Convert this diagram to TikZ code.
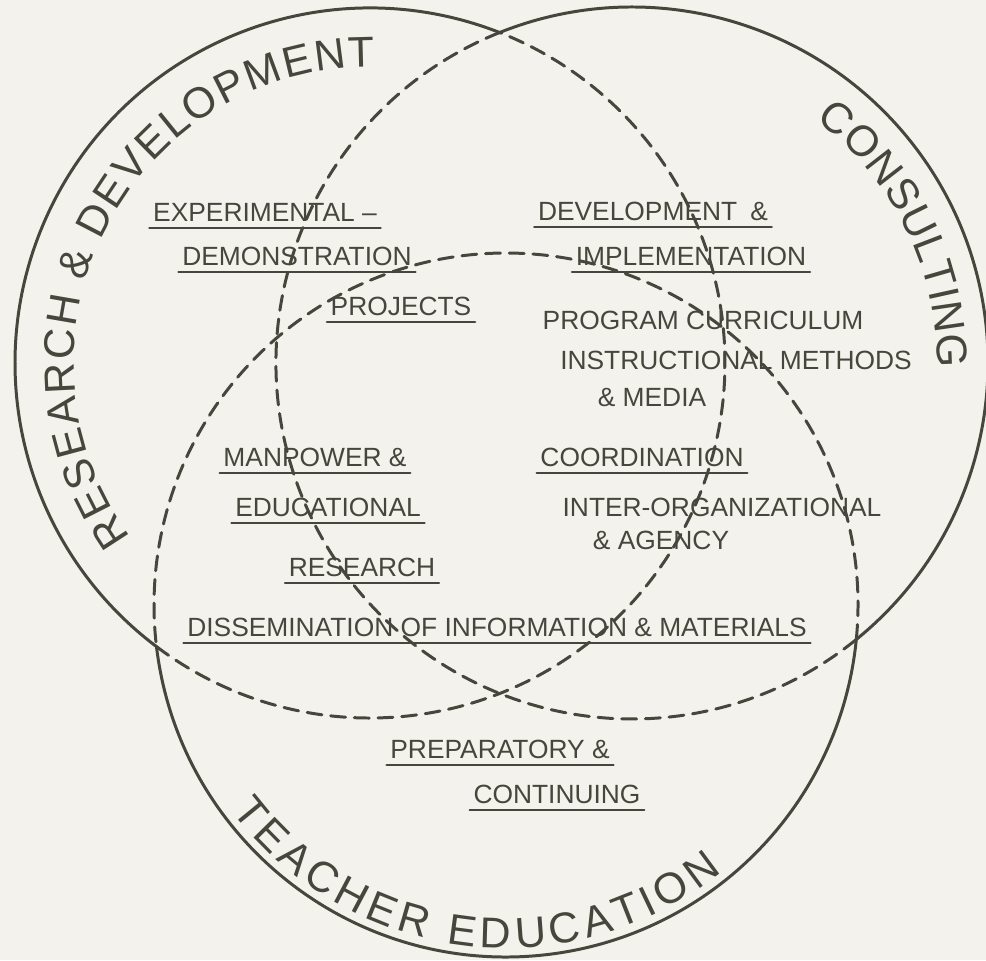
\documentclass[tikz,border=0pt]{standalone}
\usepackage{fontspec}
\setmainfont{Liberation Sans}
\usetikzlibrary{decorations.text}
\definecolor{ink}{RGB}{70,70,60}
\definecolor{paper}{RGB}{243,242,236}
\newcommand{\lblfont}{\fontsize{15}{18}\selectfont}
\newcommand{\ringfont}{\fontsize{24.5}{28}\selectfont}
\tikzset{
  ring/.style={ink, line width=1.7pt},
  inner ring/.style={ring, dash pattern=on 8.5pt off 5pt},
  lbl/.style={font=\lblfont, text=ink, text depth=0pt, inner xsep=2pt, inner ysep=0.12cm, anchor=south},
  uline/.style={ink, line width=1.3pt},
  ringfit/.style={decorate, decoration={text along path, text align=fit to path, text color=ink, text={#1}}}
}
\begin{document}
\begin{tikzpicture}[x=0.02cm,y=0.02cm,line cap=round,line join=round]
        \fill[paper] (0,0) rectangle (986,960);
        \useasboundingbox (0,0) rectangle (986,960);
        \coordinate (cL) at (370,597);
        \coordinate (cR) at (632,597);
        \coordinate (cB) at (506,355);

        % outer rim of the three fields
        \draw[ring] ([shift={(68.59:355)}]cL) arc[start angle=68.59, end angle=233.02, radius=355];
        \draw[ring] ([shift={(-50.94:356)}]cR) arc[start angle=-50.94, end angle=111.83, radius=356];
        \draw[ring] ([shift={(186.79:352)}]cB) arc[start angle=186.79, end angle=354.39, radius=352];
        % overlaps
        \draw[inner ring] ([shift={(233.02:355)}]cL) arc[start angle=233.02, end angle=428.59, radius=355];
        \draw[inner ring] ([shift={(111.83:356)}]cR) arc[start angle=111.83, end angle=309.06, radius=356];
        \draw[inner ring] ([shift={(-5.61:352)}]cB) arc[start angle=-5.61, end angle=186.79, radius=352];

        \path[ringfit={|\ringfont|RESEARCH {\&} DEVELOPMENT}] ([shift={(216:296)}]cL) arc[start angle=216, end angle=89, radius=296];
        \path[ringfit={|\ringfont|CONSULTING}] ([shift={(53:305)}]cR) arc[start angle=53, end angle=-1, radius=305];
        \path[ringfit={|\ringfont|TEACHER EDUCATION}] ([shift={(217:343)}]cB) arc[start angle=217, end angle=309, radius=343];

        \node[lbl] (exper) at (265,732) {EXPERIMENTAL --};
        \node[lbl] (demo) at (297,688) {DEMONSTRATION};
        \node[lbl] (proj) at (401,638) {PROJECTS};
        \node[lbl] (devel) at (653,733) {DEVELOPMENT\enspace\&};
        \node[lbl] (implem) at (691,688) {IMPLEMENTATION};
        \node[lbl] (prog) at (703,624) {PROGRAM CURRICULUM};
        \node[lbl] (instr) at (736,584) {INSTRUCTIONAL METHODS};
        \node[lbl] (media) at (652,547) {\& MEDIA};
        \node[lbl] (coord) at (642,487) {COORDINATION};
        \node[lbl] (inter) at (722,437) {INTER-ORGANIZATIONAL};
        \node[lbl] (agency) at (661,404) {\& AGENCY};
        \node[lbl] (manpow) at (315,487) {MANPOWER \&};
        \node[lbl] (educ) at (328,437) {EDUCATIONAL};
        \node[lbl] (resch) at (362,377) {RESEARCH};
        \node[lbl] (dissem) at (497,317) {DISSEMINATION OF INFORMATION \& MATERIALS};
        \node[lbl] (prep) at (500,195) {PREPARATORY \&};
        \node[lbl] (contin) at (557,150) {CONTINUING};

        \foreach \n in {exper,demo,proj,devel,implem,coord,manpow,educ,resch,dissem,prep,contin}
          \draw[uline] (\n.south west) -- (\n.south east);
\end{tikzpicture}
\end{document}
